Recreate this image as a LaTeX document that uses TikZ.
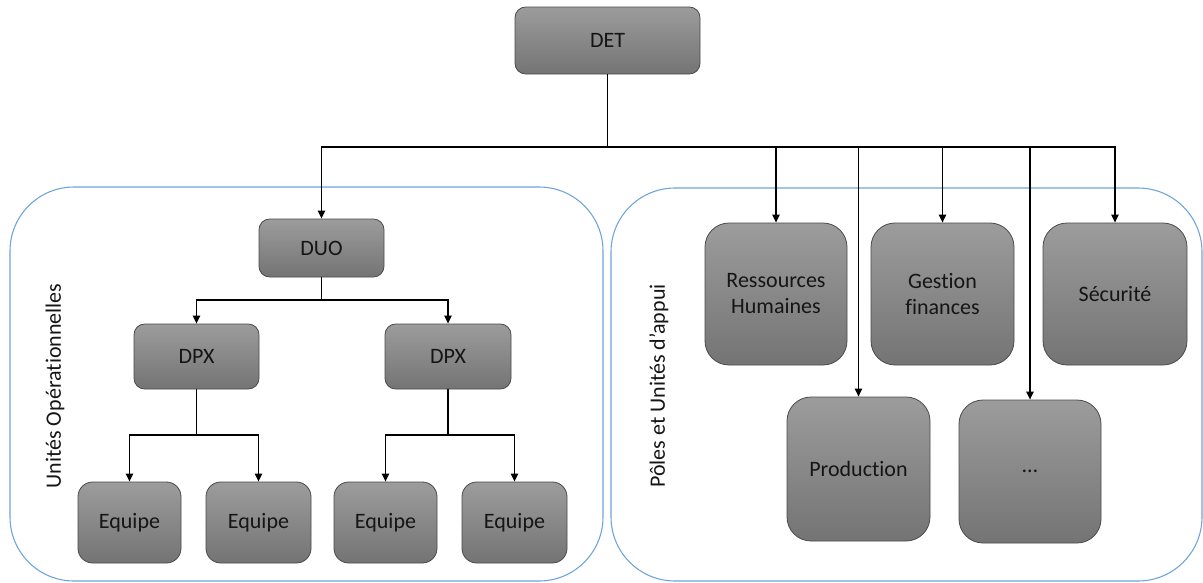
\documentclass[tikz,border=0pt]{standalone}
\usepackage{fontspec}
\setmainfont[Ligatures=NoCommon]{Carlito}
\usetikzlibrary{arrows.meta}
\definecolor{boxtop}{HTML}{9C9C9C}
\definecolor{boxbot}{HTML}{747474}
\definecolor{boxline}{HTML}{4A4A4A}
\definecolor{txt}{HTML}{151515}
\definecolor{contline}{HTML}{6FA3DB}
\tikzset{
  unitbox/.style={draw=boxline, line width=0.6pt, top color=boxtop, bottom color=boxbot,
    rounded corners=8pt, inner sep=0pt, align=center, text=txt,
    font=\fontsize{16.5}{19.5}\selectfont},
  bigbox/.style={unitbox, rounded corners=18pt},
  container/.style={draw=contline, line width=0.8pt, rounded corners=48pt},
  vlabel/.style={rotate=90, text=txt, font=\fontsize{16.5}{19.5}\selectfont, inner sep=0pt},
  conn/.style={draw=black, line width=1.1pt},
  arr/.style={conn, -{Triangle[length=6pt,width=5.5pt]}}
}
\begin{document}
\begin{tikzpicture}[x=0.75pt,y=-0.75pt]
\useasboundingbox (0,0) rectangle (1203,582);
% containers
\draw[container] (10,187) rectangle (603,581);
\draw[container] (611,188) rectangle (1202,581);
\node[vlabel] (lblL) at (55,386) {Unités Opérationnelles};
\node[vlabel] (lblR) at (659,386) {Pôles et Unités d’appui};
% boxes
\node[unitbox, minimum width=138.75pt, minimum height=50.25pt] (DET) at (607.5,40.5) {DET};
\node[unitbox, minimum width=93.75pt, minimum height=43.5pt] (DUO) at (321.5,248) {DUO};
\node[unitbox, minimum width=93.75pt, minimum height=48.75pt] (DPX1) at (196.5,356.5) {DPX};
\node[unitbox, minimum width=94.5pt, minimum height=48.75pt] (DPX2) at (448,356.5) {DPX};
\node[unitbox, rounded corners=11pt, minimum width=77.25pt, minimum height=60.75pt] (E1) at (129.5,522.5) {Equipe};
\node[unitbox, rounded corners=11pt, minimum width=78.75pt, minimum height=60.75pt] (E2) at (258.5,522.5) {Equipe};
\node[unitbox, rounded corners=11pt, minimum width=77.25pt, minimum height=60.75pt] (E3) at (385.5,522.5) {Equipe};
\node[unitbox, rounded corners=11pt, minimum width=78.75pt, minimum height=60.75pt] (E4) at (514.5,522.5) {Equipe};
\node[bigbox, minimum width=106.5pt, minimum height=106.5pt] (RH) at (776,294) {Ressources\\Humaines};
\node[bigbox, minimum width=107.25pt, minimum height=106.5pt] (GF) at (942.5,294) {Gestion\\finances};
\node[bigbox, minimum width=108pt, minimum height=106.5pt] (SEC) at (1115,294) {Sécurité};
\node[bigbox, minimum width=107.25pt, minimum height=108pt] (PROD) at (858.5,469) {Production};
\node[bigbox, minimum width=106.5pt, minimum height=107.25pt] (DOTS) at (1030,471.5) {\raisebox{-2pt}{…}};
% connectors
\coordinate (j) at (607.5,147);
\draw[conn] (DET) -- (j);
\draw[arr] (j) -| (DUO);
\draw[arr] (j) -| (RH);
\draw[arr] (j) -| (PROD);
\draw[arr] (j) -| (GF);
\draw[arr] (j) -| (DOTS);
\draw[arr] (j) -| (SEC);
\coordinate (b1) at (321.5,300);
\draw[conn] (DUO) -- (b1);
\draw[arr] (b1) -| (DPX1);
\draw[arr] (b1) -| (DPX2);
\coordinate (b2) at (196.5,435);
\draw[conn] (DPX1) -- (b2);
\draw[arr] (b2) -| (E1);
\draw[arr] (b2) -| (E2);
\coordinate (b3) at (448,435);
\draw[conn] (DPX2) -- (b3);
\draw[arr] (b3) -| (E3);
\draw[arr] (b3) -| (E4);
\end{tikzpicture}
\end{document}
